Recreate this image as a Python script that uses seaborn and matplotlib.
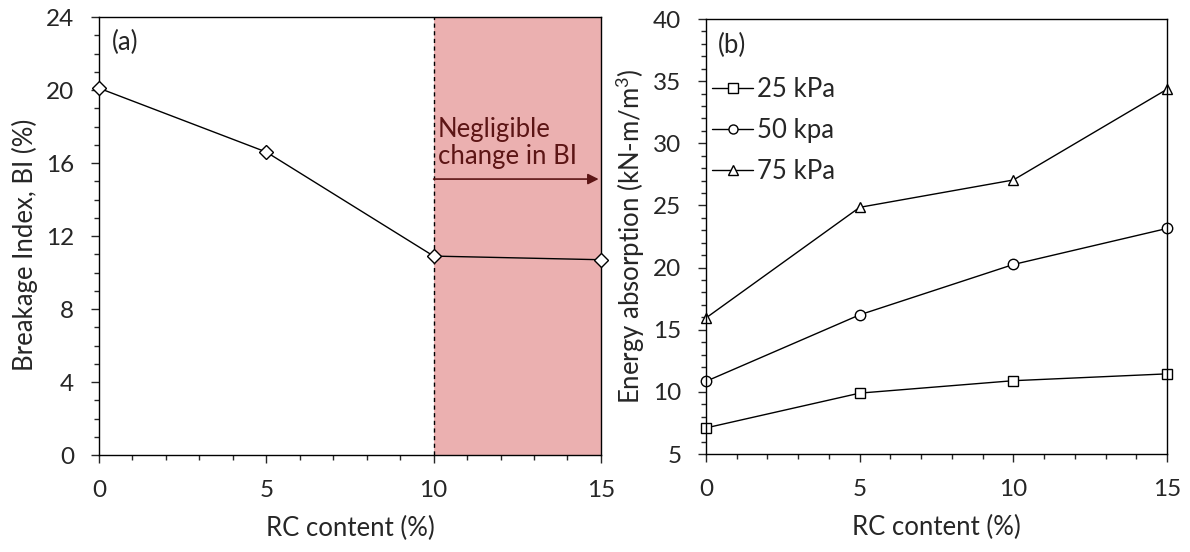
import matplotlib
matplotlib.use("Agg")
import matplotlib.pyplot as plt
import seaborn as sns
import pandas as pd
from matplotlib.ticker import MultipleLocator

rc_content = [0, 5, 10, 15]
breakage_index = [20.1, 16.6, 10.9, 10.7]
energy_25 = [7.1, 9.9, 10.9, 11.45]
energy_50 = [10.85, 16.2, 20.25, 23.15]
energy_75 = [15.95, 24.85, 27.05, 34.35]
series_labels = ["25 kPa", "50 kpa", "75 kPa"]

sns.set_style("ticks")
plt.rcParams['font.family'] = ['Lato', 'DejaVu Sans']
plt.rcParams['mathtext.fontset'] = 'custom'
plt.rcParams['mathtext.rm'] = 'Lato'

fig = plt.figure(figsize=(11.9, 5.52), dpi=100)
ax1 = fig.add_axes([0.0832, 0.1757, 0.4218, 0.7935])
ax2 = fig.add_axes([0.5933, 0.1775, 0.3874, 0.7880])

FS = 18.5
TFS = 17.5
DARKRED = "#5C1515"

# Panel (a)
ax1.axvspan(10, 15, color="#EBB0B0", zorder=0, lw=0)
ax1.axvline(10, color="black", ls=(0, (3, 2.5)), lw=1, zorder=1)
df_a = pd.DataFrame({"x": rc_content, "y": breakage_index})
sns.lineplot(data=df_a, x="x", y="y", ax=ax1, color="black", lw=1,
             marker="D", markersize=7.5, markerfacecolor="white",
             markeredgecolor="black", markeredgewidth=1, zorder=3, clip_on=False)
ax1.set_xlim(0, 15)
ax1.set_ylim(0, 24)
ax1.xaxis.set_major_locator(MultipleLocator(5))
ax1.xaxis.set_minor_locator(MultipleLocator(1))
ax1.yaxis.set_major_locator(MultipleLocator(4))
ax1.yaxis.set_minor_locator(MultipleLocator(1))
ax1.set_xlabel("RC content (%)", fontsize=FS)
ax1.set_ylabel("Breakage Index, BI (%)", fontsize=FS)
ax1.xaxis.set_label_coords(0.5, -0.167)
ax1.yaxis.set_label_coords(-0.147, 0.48)
ax1.text(0.38, 22.6, "(a)", fontsize=FS, va="center", ha="left")
ax1.text(10.12, 17.1, "Negligible\nchange in BI", fontsize=FS, color=DARKRED,
         va="center", ha="left", linespacing=1.1)
ax1.annotate("", xy=(14.93, 15.12), xytext=(10, 15.12),
             arrowprops=dict(arrowstyle="-|>", color=DARKRED, lw=1.2,
                             mutation_scale=16, shrinkA=0, shrinkB=0))

# Panel (b)
df_b = pd.DataFrame({
    "x": rc_content * 3,
    "y": energy_25 + energy_50 + energy_75,
    "s": [series_labels[0]] * 4 + [series_labels[1]] * 4 + [series_labels[2]] * 4,
})
sns.lineplot(data=df_b, x="x", y="y", hue="s", style="s", ax=ax2,
             palette=["black"] * 3, markers=["s", "o", "^"], dashes=False,
             lw=1, markersize=7.5, markerfacecolor="white",
             markeredgecolor="black", markeredgewidth=1, clip_on=False)
ax2.set_xlim(0, 15)
ax2.set_ylim(5, 40)
ax2.xaxis.set_major_locator(MultipleLocator(5))
ax2.xaxis.set_minor_locator(MultipleLocator(1))
ax2.yaxis.set_major_locator(MultipleLocator(5))
ax2.yaxis.set_minor_locator(MultipleLocator(1))
ax2.set_xlabel("RC content (%)", fontsize=FS)
ax2.set_ylabel("Energy absorption (kN-m/m$^3$)", fontsize=FS)
ax2.xaxis.set_label_coords(0.5, -0.170)
ax2.yaxis.set_label_coords(-0.165, 0.5)
ax2.text(0.4, 37.85, "(b)", fontsize=FS, va="center", ha="left")
leg = ax2.legend(loc="upper left", bbox_to_anchor=(0.013, 0.867), frameon=False,
                 fontsize=FS, handlelength=1.6, handletextpad=0.15,
                 labelspacing=0.62, borderaxespad=0, borderpad=0)
for h in leg.legend_handles:
    h.set_markersize(6.5)

for ax in (ax1, ax2):
    ax.xaxis.label.set_verticalalignment("center")
    ax.yaxis.label.set_verticalalignment("center")
    for sp in ax.spines.values():
        sp.set_visible(True)
        sp.set_linewidth(1)
        sp.set_color("black")
    ax.tick_params(which="major", direction="out", length=5.8, width=1,
                   labelsize=TFS, pad=12)
    ax.tick_params(which="minor", direction="out", length=3.6, width=1)
    ax.tick_params(top=False, right=False, which="both")

fig.savefig("out.png", dpi=100)
